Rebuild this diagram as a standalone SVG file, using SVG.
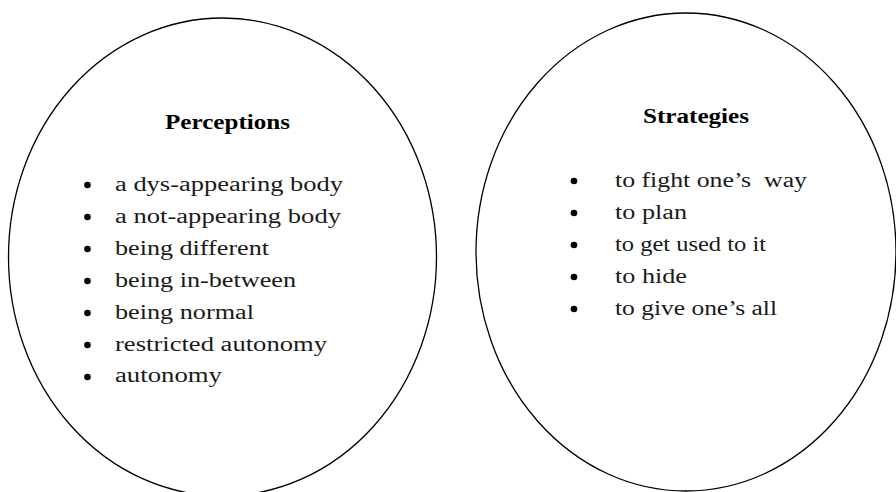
<svg xmlns="http://www.w3.org/2000/svg" width="896" height="492" viewBox="0 0 896 492">
<style>
.oval{fill:none;stroke:#000;stroke-width:1.3}
.t{font-family:"Liberation Serif","Times New Roman",serif;font-size:20.5px;fill:#1a1a1a;white-space:pre}
.h{font-family:"Liberation Serif","Times New Roman",serif;font-size:20px;font-weight:bold;fill:#000}
.b{fill:#000}
</style>
<rect width="896" height="492" fill="#fff"/>
<g id="perceptions">
<ellipse class="oval" cx="222.5" cy="257" rx="214" ry="239"/>
<text class="h" x="165" y="128.5" textLength="125" lengthAdjust="spacingAndGlyphs">Perceptions</text>
<circle class="b" cx="87.5" cy="185" r="3.3"/>
<circle class="b" cx="87.5" cy="217" r="3.3"/>
<circle class="b" cx="87.5" cy="249" r="3.3"/>
<circle class="b" cx="87.5" cy="281" r="3.3"/>
<circle class="b" cx="87.5" cy="313" r="3.3"/>
<circle class="b" cx="87.5" cy="345" r="3.3"/>
<circle class="b" cx="87.5" cy="377" r="3.3"/>
<text class="t" x="115" y="190.5" textLength="228" lengthAdjust="spacingAndGlyphs">a dys-appearing body</text>
<text class="t" x="115" y="222.5" textLength="226" lengthAdjust="spacingAndGlyphs">a not-appearing body</text>
<text class="t" x="115" y="254.5" textLength="154" lengthAdjust="spacingAndGlyphs">being different</text>
<text class="t" x="115" y="286.5" textLength="181" lengthAdjust="spacingAndGlyphs">being in-between</text>
<text class="t" x="115" y="318.5" textLength="139" lengthAdjust="spacingAndGlyphs">being normal</text>
<text class="t" x="115" y="350.5" textLength="212" lengthAdjust="spacingAndGlyphs">restricted autonomy</text>
<text class="t" x="115" y="382" textLength="107" lengthAdjust="spacingAndGlyphs">autonomy</text>
</g>
<g id="strategies">
<ellipse class="oval" cx="686" cy="252" rx="210" ry="239"/>
<text class="h" x="643" y="123" textLength="106" lengthAdjust="spacingAndGlyphs">Strategies</text>
<circle class="b" cx="574" cy="181" r="3.3"/>
<circle class="b" cx="574" cy="213" r="3.3"/>
<circle class="b" cx="574" cy="245" r="3.3"/>
<circle class="b" cx="574" cy="277" r="3.3"/>
<circle class="b" cx="574" cy="309" r="3.3"/>
<text class="t" x="615" y="187" textLength="192" lengthAdjust="spacingAndGlyphs">to fight one’s  way</text>
<text class="t" x="615" y="219" textLength="72" lengthAdjust="spacingAndGlyphs">to plan</text>
<text class="t" x="615" y="251" textLength="151" lengthAdjust="spacingAndGlyphs">to get used to it</text>
<text class="t" x="615" y="283" textLength="72" lengthAdjust="spacingAndGlyphs">to hide</text>
<text class="t" x="615" y="315" textLength="162" lengthAdjust="spacingAndGlyphs">to give one’s all</text>
</g>
<g id="connectors"/>
</svg>
